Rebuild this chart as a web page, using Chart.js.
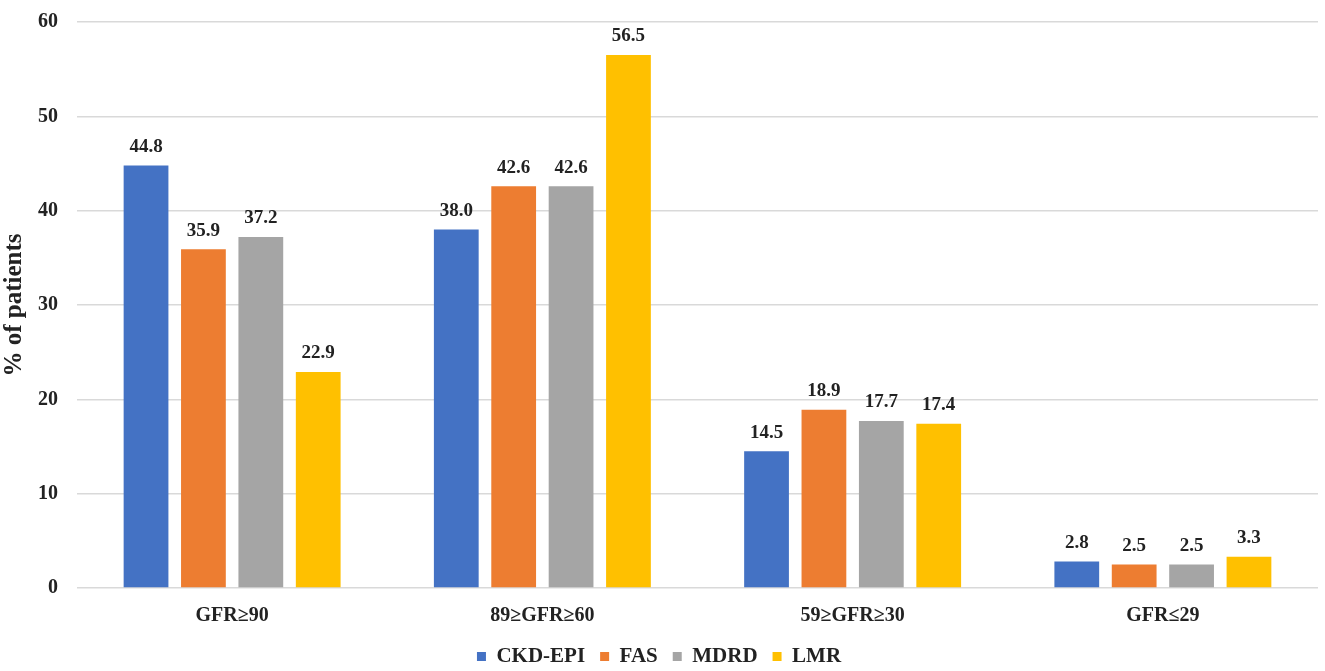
<!DOCTYPE html>
<html>
<head>
<meta charset="utf-8">
<script src="https://cdn.jsdelivr.net/npm/chart.js@4/dist/chart.umd.min.js"></script>
<style>
  html, body { margin: 0; padding: 0; background: #fff; }
  #wrap { width: 1325px; height: 671px; }
</style>
</head>
<body>
<div id="wrap"><canvas id="gfrChart"></canvas></div>
<script>
// data
const categories = ['GFR\u226590', '89\u2265GFR\u226560', '59\u2265GFR\u226530', 'GFR\u226429'];
const ckdEpi = [44.8, 38.0, 14.5, 2.8];
const fas = [35.9, 42.6, 18.9, 2.5];
const mdrd = [37.2, 42.6, 17.7, 2.5];
const lmr = [22.9, 56.5, 17.4, 3.3];
const yTicks = [0, 10, 20, 30, 40, 50, 60];

const serif = '"Liberation Serif", "Times New Roman", serif';

// simple value labels above bars (no datalabels plugin available offline)
const valueLabels = {
    id: 'valueLabels',
    afterDatasetsDraw(chart) {
        const ctx = chart.ctx;
        ctx.save();
        ctx.font = 'bold 19px ' + serif;
        ctx.fillStyle = '#222';
        ctx.textAlign = 'center';
        ctx.textBaseline = 'bottom';
        chart.data.datasets.forEach((ds, i) => {
            chart.getDatasetMeta(i).data.forEach((bar, j) => {
                ctx.fillText(ds.data[j].toFixed(1), bar.x, bar.y - 9);
            });
        });
        ctx.restore();
    }
};

const ctx = document.getElementById('gfrChart');
new Chart(ctx, {
    type: 'bar',
    data: {
        labels: categories,
        datasets: [
            { label: 'CKD-EPI', data: ckdEpi, backgroundColor: '#4472C4' },
            { label: 'FAS', data: fas, backgroundColor: '#ED7D31' },
            { label: 'MDRD', data: mdrd, backgroundColor: '#A5A5A5' },
            { label: 'LMR', data: lmr, backgroundColor: '#FFC000' }
        ]
    },
    options: {
        responsive: true,
        maintainAspectRatio: false,
        animation: false,
        layout: { padding: { top: 22, right: 7, left: 0, bottom: -6 } },
        datasets: {
            bar: { barPercentage: 0.78, categoryPercentage: 0.74 }
        },
        plugins: {
            legend: {
                position: 'bottom',
                labels: {
                    boxWidth: 9,
                    boxHeight: 9,
                    padding: 15,
                    color: '#222',
                    font: { family: serif, size: 21, weight: 'bold' }
                }
            },
            tooltip: { enabled: false }
        },
        scales: {
            x: {
                grid: { display: false },
                border: { display: false },
                afterFit(scale) { scale.height = 43; },
                ticks: {
                    color: '#222',
                    padding: 8,
                    font: { family: serif, size: 20, weight: 'bold' }
                }
            },
            y: {
                min: 0,
                max: 60,
                afterBuildTicks(scale) {
                    scale.ticks = yTicks.map(v => ({ value: v }));
                },
                afterFit(scale) {
                    scale.width = 77;
                    scale.paddingTop = 0;
                    scale.paddingBottom = 0;
                },
                grid: { color: '#d9d9d9', lineWidth: 1.5, drawTicks: false },
                border: { display: false },
                ticks: {
                    color: '#222',
                    padding: 19,
                    font: { family: serif, size: 20, weight: 'bold' }
                },
                title: {
                    display: true,
                    text: '% of patients',
                    color: '#222',
                    padding: { top: 0, bottom: 0 },
                    font: { family: serif, size: 25, weight: 'bold' }
                }
            }
        }
    },
    plugins: [valueLabels]
});
</script>
</body>
</html>
